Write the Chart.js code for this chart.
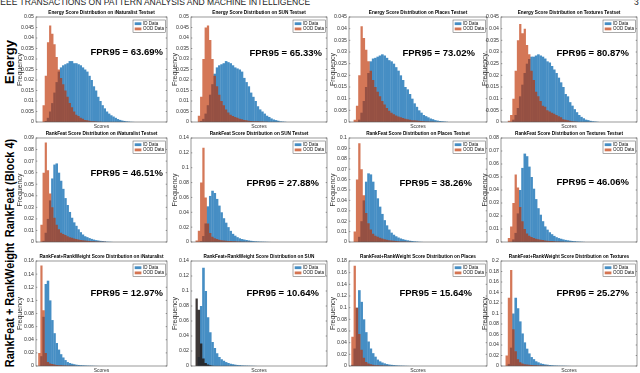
<!DOCTYPE html>
<html><head><meta charset="utf-8">
<script src="https://cdn.jsdelivr.net/npm/chart.js@4"></script>
<style>
html,body{margin:0;padding:0;background:#fff}
body{width:640px;height:373px;overflow:hidden;position:relative;font-family:"Liberation Sans",Arial,Helvetica,sans-serif}
canvas{position:absolute}
.t{position:absolute;white-space:nowrap;line-height:1}
.row{font-weight:bold;color:#000;font-size:13px;transform:translate(-50%,-50%) rotate(-90deg) scaleX(0.84)}
.fpr{font-weight:bold;font-size:9.5px;color:#000;transform:translateY(-50%)}
</style></head><body>
<div class="t" style="left:-2px;top:-2.2px;font-size:8.5px;color:#222">IEEE TRANSACTIONS ON PATTERN ANALYSIS AND MACHINE INTELLIGENCE</div>
<div class="t" style="left:634px;top:-2.2px;font-size:8.5px;color:#222">3</div>
<div class="t row" style="left:9px;top:62px;transform:translate(-50%,-50%) rotate(-90deg)">Energy</div>
<div class="t row" style="left:9px;top:188px">RankFeat (Block 4)</div>
<div class="t row" style="left:9px;top:305px">RankFeat + RankWeight</div>
<script>
// ---------- data ----------
const BINS = Array.from({length: 60}, (_, i) => i);

const TITLES = [
  "Energy Score Distribution on iNaturalist Testset",
  "Energy Score Distribution on SUN Testset",
  "Energy Score Distribution on Places Testset",
  "Energy Score Distribution on Textures Testset",
  "RankFeat Score Distribution on iNaturalist Testset",
  "RankFeat Score Distribution on SUN Testset",
  "RankFeat Score Distribution on Places Testset",
  "RankFeat Score Distribution on Textures Testset",
  "RankFeat+RankWeight Score Distribution on iNaturalist",
  "RankFeat+RankWeight Score Distribution on SUN",
  "RankFeat+RankWeight Score Distribution on Places",
  "RankFeat+RankWeight Score Distribution on Textures"
];
const FPR95 = ["63.69","65.33","73.02","80.87","46.51","27.88","38.26","46.06","12.97","10.64","15.64","25.27"];
const YMAX  = [0.05,0.05,0.045,0.045, 0.09,0.14,0.1,0.08, 0.16,0.14,0.18,0.2];
const YSTEP = [0.005,0.005,0.005,0.005, 0.01,0.02,0.01,0.01, 0.02,0.02,0.02,0.02];

const ID1  = [0,0,0,0,0.0005,0.002,0.005,0.009,0.014,0.019,0.024,0.026,0.027,0.0275,0.028,0.029,0.029,0.028,0.028,0.0275,0.027,0.026,0.025,0.024,0.022,0.02,0.017,0.015,0.012,0.01,0.008,0.0065,0.005,0.004,0.0032,0.0026,0.002,0.0014,0.001,0.0007,0.0005,0.0003,0.0002,0.0001,0.00005,0];
const OOD1 = [0,0,0,0.008,0.022,0.038,0.046,0.042,0.037,0.031,0.025,0.021,0.018,0.015,0.012,0.009,0.007,0.005,0.0035,0.0028,0.002,0.0015,0.001,0.0008,0.0006,0.0004,0.0003,0.0002,0.0001,0.0001,0];
const ID2  = [0,0,0,0,0.0005,0.0015,0.004,0.008,0.013,0.018,0.023,0.026,0.027,0.0275,0.028,0.029,0.0285,0.028,0.027,0.026,0.0255,0.025,0.024,0.021,0.019,0.017,0.014,0.012,0.01,0.0075,0.006,0.005,0.004,0.003,0.0024,0.0017,0.0012,0.0009,0.0006,0.0003,0.0002,0.0001,0];
const OOD2 = [0,0,0,0.003,0.012,0.03,0.045,0.046,0.039,0.03,0.022,0.017,0.013,0.01,0.008,0.006,0.0045,0.0035,0.0028,0.0024,0.002,0.0016,0.0013,0.001,0.0008,0.0006,0.0005,0.0004,0.0003,0.0003,0.0002,0.0002,0.0001,0.0001,0];
const ID3  = [0,0,0,0,0.001,0.004,0.009,0.015,0.021,0.026,0.0272,0.0275,0.028,0.0285,0.029,0.0285,0.0275,0.0265,0.026,0.025,0.0235,0.022,0.02,0.018,0.015,0.014,0.012,0.01,0.008,0.0065,0.005,0.004,0.003,0.0025,0.002,0.0015,0.0012,0.0008,0.0006,0.0004,0.0003,0.0002,0.0001,0];
const OOD3 = [0,0,0.001,0.007,0.02,0.041,0.036,0.031,0.026,0.022,0.018,0.015,0.013,0.011,0.009,0.0075,0.006,0.0048,0.004,0.0033,0.0028,0.0024,0.002,0.0017,0.0014,0.0012,0.001,0.0008,0.0007,0.0006,0.0005,0.0004,0.0003,0.0002,0.0002,0.0001,0.0001,0];
const ID4  = [0,0,0,0,0,0.001,0.003,0.006,0.011,0.016,0.021,0.025,0.027,0.028,0.028,0.0285,0.029,0.0285,0.028,0.0272,0.026,0.0255,0.024,0.0225,0.021,0.019,0.017,0.015,0.012,0.011,0.0085,0.007,0.0055,0.0042,0.003,0.0022,0.0016,0.001,0.0008,0.0005,0.0003,0.0002,0.0001,0];
const OOD4 = [0,0,0,0.0005,0.003,0.01,0.022,0.035,0.042,0.038,0.04,0.033,0.029,0.022,0.018,0.013,0.011,0.009,0.007,0.0065,0.005,0.0045,0.004,0.0035,0.003,0.0025,0.002,0.0012,0.001,0.0008,0.0005,0.0003,0.0002,0.0001,0];
const ID5  = [0,0,0,0.001,0.008,0.02,0.036,0.055,0.067,0.068,0.06,0.053,0.046,0.038,0.032,0.026,0.021,0.017,0.014,0.011,0.0085,0.0065,0.005,0.0042,0.0034,0.0027,0.0021,0.0016,0.0013,0.001,0.0008,0.0005,0.0003,0.0002,0.0001,0];
const OOD5 = [0,0,0.015,0.06,0.086,0.062,0.042,0.03,0.021,0.015,0.011,0.008,0.007,0.006,0.005,0.0042,0.0036,0.003,0.0026,0.0022,0.0018,0.0015,0.0013,0.0011,0.0009,0.0007,0.0006,0.0005,0.0004,0.0003,0.0002,0.0002,0.0001,0];
const ID6  = [0,0,0,0,0.001,0.008,0.025,0.048,0.062,0.069,0.066,0.058,0.049,0.04,0.032,0.026,0.02,0.015,0.011,0.0085,0.0065,0.005,0.004,0.0033,0.0027,0.0021,0.0016,0.0012,0.0009,0.0007,0.0005,0.0004,0.0003,0.0002,0.0001,0];
const OOD6 = [0,0,0.002,0.015,0.08,0.127,0.06,0.025,0.012,0.007,0.005,0.004,0.003,0.0025,0.002,0.0017,0.0014,0.0012,0.001,0.0009,0.0008,0.0006,0.0005,0.0004,0.0003,0.0002,0.0001,0];
const ID7  = [0,0,0,0,0.005,0.02,0.04,0.058,0.066,0.065,0.058,0.05,0.042,0.034,0.027,0.021,0.016,0.012,0.009,0.007,0.0055,0.0043,0.0034,0.0027,0.0021,0.0016,0.0012,0.0009,0.0006,0.0004,0.0002,0.0001,0];
const OOD7 = [0,0,0.01,0.06,0.095,0.07,0.045,0.028,0.018,0.012,0.008,0.006,0.005,0.004,0.0033,0.0027,0.0022,0.0018,0.0015,0.0012,0.001,0.0008,0.0006,0.0005,0.0004,0.0003,0.0002,0.0001,0];
const ID8  = [0,0,0,0,0,0.002,0.007,0.022,0.04,0.057,0.068,0.066,0.058,0.05,0.041,0.033,0.026,0.021,0.016,0.012,0.0095,0.0075,0.006,0.0047,0.0037,0.003,0.0025,0.002,0.0016,0.0013,0.001,0.0008,0.0006,0.0004,0.0003,0.0002,0.0001,0];
const OOD8 = [0,0,0,0.003,0.012,0.03,0.052,0.042,0.027,0.016,0.01,0.0065,0.0048,0.0038,0.003,0.0025,0.0021,0.0018,0.0015,0.0012,0.001,0.0008,0.0007,0.0005,0.0004,0.0003,0.0002,0.0001,0];
const ID9  = [0,0,0.015,0.075,0.125,0.13,0.1,0.07,0.05,0.035,0.025,0.018,0.013,0.009,0.006,0.0045,0.0035,0.0027,0.002,0.0016,0.0012,0.001,0.0008,0.0006,0.0005,0.0004,0.0003,0.0002,0.0001,0];
const OOD9 = [0,0.02,0.153,0.085,0.02,0.006,0.004,0.003,0.0022,0.0017,0.0013,0.001,0.0008,0.0006,0.0005,0.0004,0.0003,0.0002,0.0001,0];
const ID10  = [0,0,0,0.012,0.08,0.131,0.1,0.065,0.045,0.032,0.024,0.017,0.012,0.009,0.007,0.0052,0.004,0.003,0.0024,0.0018,0.0014,0.0011,0.0008,0.0006,0.0005,0.0004,0.0003,0.0002,0.0001,0];
const OOD10 = [0,0,0.09,0.075,0.03,0.01,0.004,0.002,0.001,0.0005,0];
const ID11  = [0,0.002,0.03,0.1,0.13,0.11,0.08,0.058,0.042,0.03,0.022,0.016,0.011,0.008,0.006,0.0045,0.0033,0.0025,0.002,0.0015,0.0011,0.0008,0.0006,0.0005,0.0003,0.0002,0.0001,0];
const OOD11 = [0,0.05,0.172,0.1,0.055,0.028,0.014,0.007,0.0045,0.003,0.002,0.0015,0.0012,0.001,0.0007,0.0005,0.0003,0.0002,0.0001,0];
const ID12  = [0,0,0,0.004,0.035,0.1,0.13,0.11,0.085,0.062,0.045,0.033,0.024,0.017,0.013,0.009,0.007,0.005,0.004,0.003,0.0025,0.0018,0.0014,0.001,0.0008,0.0006,0.0005,0.0004,0.0003,0.0002,0.0001,0];
const OOD12 = [0,0,0.02,0.13,0.183,0.07,0.028,0.013,0.007,0.005,0.0035,0.003,0.0025,0.002,0.0016,0.0013,0.001,0.0008,0.0006,0.0004,0.0003,0.0002,0.0001,0];

const ID_SERIES  = [ID1,ID2,ID3,ID4,ID5,ID6,ID7,ID8,ID9,ID10,ID11,ID12];
const OOD_SERIES = [OOD1,OOD2,OOD3,OOD4,OOD5,OOD6,OOD7,OOD8,OOD9,OOD10,OOD11,OOD12];

// ---------- layout & style ----------
const FONT = '"Liberation Sans", Arial, Helvetica, sans-serif';
const COL_L = [36,191,349,501], COL_W = [131,136,138,136];
const ROW_T = [17,138,261], ROW_B = [122,242,366];
const FPR_R = [163,322,475,629, 163,319,472,629, 163,319,472,629];
const FPR_Y = [52,53,53,53, 173,183,183,182, 293,293,293,293];
const PADL = 30, PADR = 3, PADT = 10, PADB = 8;
const ID_COLOR = 'rgb(70,142,196)';
const OOD_COLOR = 'rgba(190,48,0,0.66)';
const OOD_SWATCH = 'rgb(212,116,82)';
const OOD_DARK = 'rgba(35,28,26,0.88)';

const decor = {
  id: 'decor',
  afterDatasetsDraw(chart, args, o) {
    const {ctx, chartArea: a} = chart;
    const ys = chart.scales.y;
    ctx.save();
    ctx.strokeStyle = '#3a3a3a';
    ctx.lineWidth = 0.5;
    ys.ticks.forEach(t => {
      const py = ys.getPixelForValue(t.value);
      ctx.beginPath();
      ctx.moveTo(a.left, py); ctx.lineTo(a.left + 1.3, py);
      ctx.moveTo(a.right, py); ctx.lineTo(a.right - 1.3, py);
      ctx.stroke();
    });
    ctx.strokeStyle = '#555';
    ctx.lineWidth = 0.6;
    ctx.strokeRect(a.left, a.top, a.right - a.left, a.bottom - a.top);
    // legend
    const lx = a.right - 34, ly = a.top + 3, lw = 32.5, lh = 12.6;
    ctx.fillStyle = '#fff'; ctx.fillRect(lx, ly, lw, lh);
    ctx.strokeStyle = '#555'; ctx.lineWidth = 0.5; ctx.strokeRect(lx, ly, lw, lh);
    chart.data.datasets.forEach((ds, i) => {
      const ry = ly + 3.7 + i * 5.2;
      ctx.fillStyle = ds.swatch;
      ctx.fillRect(lx + 1.7, ry - 1.4, 6.7, 2.8);
      ctx.fillStyle = '#111';
      ctx.font = '4.5px ' + FONT;
      ctx.textAlign = 'left'; ctx.textBaseline = 'middle';
      ctx.fillText(ds.label, lx + 10, ry);
    });
    // title
    ctx.fillStyle = '#000';
    ctx.font = 'bold 4.7px ' + FONT;
    ctx.textAlign = 'center'; ctx.textBaseline = 'middle';
    ctx.fillText(o.title, (a.left + a.right) / 2, a.top - 4.5);
    // x label (row 2 label is covered in the original)
    ctx.fillStyle = '#333';
    ctx.font = '5px ' + FONT;
    if (o.xlab) ctx.fillText('Scores', (a.left + a.right) / 2, a.bottom + o.xoff);
    // y label
    ctx.translate(a.left - 16, (a.top + a.bottom) / 2);
    ctx.rotate(-Math.PI / 2);
    ctx.font = '7px ' + FONT;
    ctx.fillText('Frequency', 0, 0);
    ctx.restore();
  }
};

function fmt(v) { return String(+v.toFixed(4)); }

for (let k = 0; k < 12; k++) {
  const r = Math.floor(k / 4), c = k % 4;
  const w = COL_W[c], h = ROW_B[r] - ROW_T[r];
  const cv = document.createElement('canvas');
  cv.width = PADL + w + PADR; cv.height = PADT + h + PADB;
  cv.style.left = (COL_L[c] - PADL) + 'px';
  cv.style.top = (ROW_T[r] - PADT) + 'px';
  document.body.appendChild(cv);
  new Chart(cv, {
    type: 'bar',
    data: {
      labels: BINS,
      datasets: [
        {label: 'ID Data', data: ID_SERIES[k], backgroundColor: ID_COLOR, swatch: ID_COLOR,
         borderWidth: 0, barPercentage: 1.15, categoryPercentage: 1, grouped: false, order: 1},
        {type: 'line', label: 'OOD Data', data: OOD_SERIES[k], swatch: OOD_SWATCH,
         backgroundColor: k === 9 ? OOD_DARK : OOD_COLOR, borderWidth: 0, borderColor: 'rgba(0,0,0,0)',
         stepped: 'middle', fill: 'origin', pointRadius: 0, order: 0}
      ]
    },
    options: {
      responsive: false, animation: false, devicePixelRatio: 1,
      layout: {padding: {top: PADT, right: PADR, bottom: PADB, left: 0}},
      plugins: {legend: {display: false}, tooltip: {enabled: false},
        decor: {title: TITLES[k], xoff: r === 2 ? 4.5 : 5, xlab: r !== 1}},
      scales: {
        x: {display: false, offset: true},
        y: {min: 0, max: YMAX[k],
          grid: {display: false, drawTicks: false}, border: {display: false},
          ticks: {stepSize: YSTEP[k], callback: fmt, autoSkip: false, padding: 2,
            color: '#333', font: {size: 5.2, family: FONT}},
          afterFit(s) { s.width = PADL; }
        }
      }
    },
    plugins: [decor]
  });
  const d = document.createElement('div');
  d.className = 't fpr';
  d.style.right = (640 - FPR_R[k]) + 'px';
  d.style.top = FPR_Y[k] + 'px';
  d.textContent = 'FPR95 = ' + FPR95[k] + '%';
  document.body.appendChild(d);
}
</script>
</body></html>
